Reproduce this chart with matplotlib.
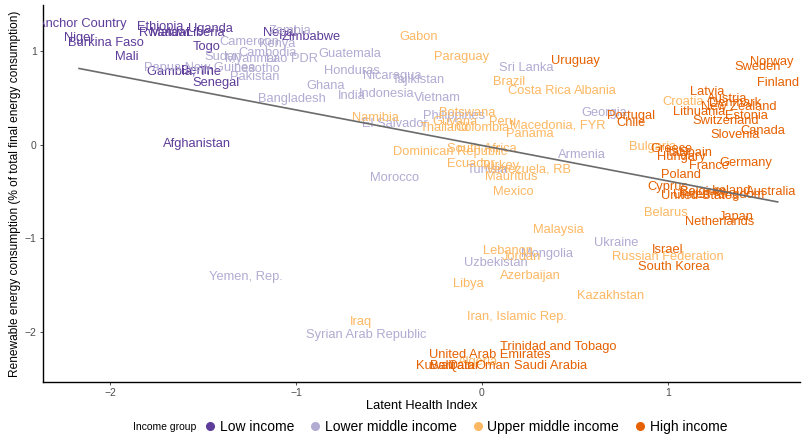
import matplotlib
matplotlib.use("Agg")
import matplotlib.pyplot as plt
from matplotlib.lines import Line2D
import numpy as np

plt.rcParams['font.family'] = ['Liberation Sans', 'DejaVu Sans']

# ---------------- data ----------------
low_names = ["Anchor Country", "Niger", "Burkina Faso", "Mali", "Ethiopia", "Uganda",
             "Rwanda", "Malawi", "Liberia", "Togo", "Gambia, The", "Benin", "Senegal",
             "Afghanistan", "Nepal", "Zimbabwe"]
low_x = [-2.15, -2.166, -2.02, -1.91, -1.73, -1.46, -1.72, -1.68, -1.49, -1.48, -1.60,
         -1.53, -1.43, -1.53, -1.09, -0.92]
low_y = [1.29, 1.14, 1.09, 0.94, 1.26, 1.24, 1.20, 1.20, 1.20, 1.05, 0.79, 0.79, 0.66,
         0.01, 1.20, 1.16]

lmid_names = ["Zambia", "Cameroon", "Kenya", "Sudan", "Myanmar", "Cambodia", "Lao PDR",
              "Papua New Guinea", "Lesotho", "Pakistan", "Guatemala", "Honduras", "Ghana",
              "Bangladesh", "India", "Nicaragua", "Tajikistan", "Indonesia", "Vietnam",
              "Philippines", "El Salvador", "Sri Lanka", "Georgia", "Armenia", "Morocco",
              "Tunisia", "Ukraine", "Mongolia", "Uzbekistan", "Yemen, Rep.",
              "Syrian Arab Republic"]
lmid_x = [-1.03, -1.25, -1.10, -1.39, -1.24, -1.15, -1.02, -1.52, -1.21, -1.22, -0.71,
          -0.70, -0.84, -1.02, -0.70, -0.48, -0.34, -0.51, -0.24, -0.15, -0.47, 0.24,
          0.66, 0.54, -0.47, 0.03, 0.72, 0.35, 0.075, -1.27, -0.62]
lmid_y = [1.22, 1.10, 1.08, 0.94, 0.92, 0.98, 0.92, 0.82, 0.81, 0.73, 0.97, 0.79, 0.63,
          0.49, 0.52, 0.74, 0.69, 0.55, 0.50, 0.31, 0.22, 0.82, 0.34, -0.11, -0.35,
          -0.27, -1.05, -1.17, -1.26, -1.41, -2.03]

umid_names = ["Gabon", "Paraguay", "Brazil", "Costa Rica", "Albania", "Namibia", "Botswana",
              "Guyana", "Peru", "Thailand", "Colombia", "Macedonia, FYR", "Panama",
              "Dominican Republic", "South Africa", "Ecuador", "Turkey", "Venezuela, RB",
              "Mauritius", "Mexico", "Malaysia", "Lebanon", "Jordan", "Azerbaijan", "Libya",
              "Kazakhstan", "Iran, Islamic Rep.", "Iraq", "Russian Federation", "Croatia",
              "Bulgaria", "Belarus", "Algeria"]
umid_x = [-0.34, -0.11, 0.145, 0.31, 0.61, -0.57, -0.08, -0.145, 0.11, -0.20, 0.005, 0.41,
          0.26, -0.17, 0.0, -0.06, 0.10, 0.25, 0.16, 0.17, 0.41, 0.14, 0.21, 0.26, -0.075,
          0.69, 0.19, -0.65, 1.00, 1.08, 0.92, 0.99, -0.02]
umid_y = [1.16, 0.94, 0.67, 0.58, 0.58, 0.29, 0.34, 0.25, 0.25, 0.18, 0.18, 0.21, 0.12,
          -0.07, -0.04, -0.20, -0.23, -0.26, -0.34, -0.50, -0.91, -1.13, -1.20, -1.40,
          -1.49, -1.61, -1.84, -1.89, -1.20, 0.46, -0.02, -0.73, -2.32]

high_names = ["Uruguay", "Portugal", "Chile", "Norway", "Sweden", "Finland", "Latvia",
              "Austria", "Denmark", "New Zealand", "Lithuania", "Estonia", "Switzerland",
              "Slovenia", "Canada", "Greece", "Italy", "Spain", "Hungary", "France",
              "Germany", "Poland", "Cyprus", "United States", "United Kingdom", "Belgium",
              "Ireland", "Australia", "Japan", "Netherlands", "Israel", "South Korea",
              "Trinidad and Tobago", "United Arab Emirates", "Kuwait", "Bahrain", "Qatar",
              "Oman", "Saudi Arabia"]
high_x = [0.50, 0.80, 0.80, 1.56, 1.48, 1.59, 1.21, 1.32, 1.36, 1.38, 1.17, 1.42, 1.31,
          1.36, 1.51, 1.02, 1.05, 1.15, 1.07, 1.22, 1.42, 1.07, 1.00, 1.17, 1.27, 1.19,
          1.34, 1.555, 1.37, 1.28, 1.00, 1.03, 0.41, 0.04, -0.25, -0.16, -0.10, 0.06, 0.37]
high_y = [0.90, 0.31, 0.23, 0.89, 0.83, 0.66, 0.57, 0.49, 0.45, 0.41, 0.35, 0.31, 0.26,
          0.11, 0.15, -0.04, -0.09, -0.09, -0.13, -0.22, -0.19, -0.32, -0.45, -0.55, -0.54,
          -0.50, -0.49, -0.50, -0.77, -0.82, -1.12, -1.30, -2.16, -2.25, -2.36, -2.36,
          -2.36, -2.36, -2.36]

group_labels = ["Low income", "Lower middle income", "Upper middle income", "High income"]
group_colors = ["#5E3C99", "#B2ABD2", "#FDB863", "#E66101"]

# linear fit
fit_intercept = -0.005
fit_slope = -0.380

x_ticks = [-2, -1, 0, 1]
y_ticks = [-2, -1, 0, 1]
x_title = "Latent Health Index"
y_title = "Renewable energy consumption (% of total final energy consumption)"
legend_title = "Income group"

# ---------------- plot ----------------
fig = plt.figure(figsize=(8.02, 4.38), dpi=100)
ax = fig.add_axes([43 / 802, 1 - 382 / 438, (800 - 43) / 802, (382 - 5) / 438])

groups = [(low_names, low_x, low_y), (lmid_names, lmid_x, lmid_y),
          (umid_names, umid_x, umid_y), (high_names, high_x, high_y)]

all_x = np.concatenate([np.array(g[1]) for g in groups])
for (names, xs, ys), col in zip(groups, group_colors):
    for n, xv, yv in zip(names, xs, ys):
        ax.text(xv, yv, n, color=col, fontsize=9.3, ha='center', va='center',
                clip_on=True)

xl = np.array([all_x.min(), all_x.max()])
ax.plot(xl, fit_intercept + fit_slope * xl, color='#6b6b6b', lw=1.2, zorder=5)

ax.set_xlim(-2.36, 1.71)
ax.set_ylim(-2.535, 1.497)
ax.set_xticks(x_ticks)
ax.set_yticks(y_ticks)
ax.set_xticklabels([("\u2212" + str(abs(t))) if t < 0 else str(t) for t in x_ticks])
ax.set_yticklabels([("\u2212" + str(abs(t))) if t < 0 else str(t) for t in y_ticks])
ax.tick_params(axis='both', length=2.5, width=0.6, color='#333333',
               labelcolor='#4D4D4D', labelsize=7.5, pad=2)
for s in ['top', 'right']:
    ax.spines[s].set_visible(False)
for s in ['left', 'bottom']:
    ax.spines[s].set_linewidth(1.0)
    ax.spines[s].set_color('black')

ax.set_xlabel(x_title, fontsize=9.3, labelpad=1)
ax.set_ylabel(y_title, fontsize=8.6, labelpad=3)

# legend
handles = [Line2D([0], [0], marker='o', linestyle='none', markersize=5.5,
                  markerfacecolor=c, markeredgecolor=c) for c in group_colors]
fig.text(133 / 802, 1 - 427 / 438, legend_title, fontsize=7.5, va='center', ha='left')
fig.legend(handles, group_labels, loc='center left', bbox_to_anchor=(202 / 802, 1 - 427 / 438),
           ncol=4, frameon=False, fontsize=10, handletextpad=0.1, columnspacing=0.9,
           handlelength=1.2, borderaxespad=0, borderpad=0)

fig.savefig("out.png", dpi=100)
